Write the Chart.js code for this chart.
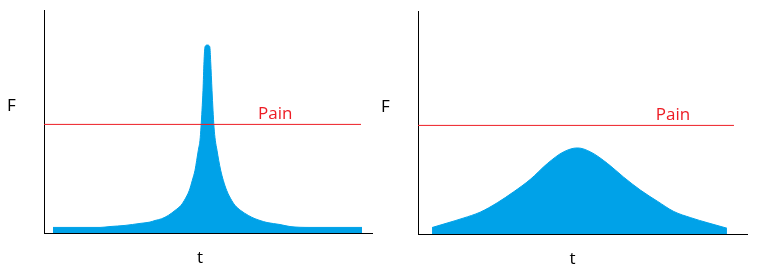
<!DOCTYPE html>
<html>
<head>
<meta charset="utf-8">
<script src="https://cdn.jsdelivr.net/npm/chart.js@4.4.0/dist/chart.umd.min.js"></script>
<style>
  body { margin: 0; background: #fff; }
  .wrap { position: relative; width: 760px; height: 280px; }
  .wrap canvas { position: absolute; top: 0; }
</style>
</head>
<body>
<div class="wrap">
  <canvas id="left-chart" width="380" height="280" style="left:0"></canvas>
  <canvas id="right-chart" width="380" height="280" style="left:380px"></canvas>
</div>
<script>
'use strict';

// left panel: sharp peak
const sharpT = [9, 56, 66, 81, 96, 106, 111, 117.7, 124.3, 131, 137, 140.3, 145.3, 148.3, 151, 152.7, 154.3, 156, 157,
  158, 159, 160, 161, 163.3, 165.8, 166.7, 168, 169, 170, 171.3, 173, 174.7, 176.7, 179.3, 182.7, 187.7, 191, 196.7,
  204.3, 211, 216, 223, 236, 246, 266, 318];
const sharpF = [2.5, 2.5, 2.9, 3.4, 4.3, 4.9, 5.6, 6.4, 7.9, 10.1, 12.4, 14.6, 19.1, 23.6, 28.1, 32.6, 37.1, 41.6, 47.5,
  55.1, 64, 76.8, 83.5, 84.3, 83.5, 76.8, 64, 55.1, 47.5, 41.6, 37.1, 32.6, 28.1, 23.6, 19.1, 14.6, 12.4, 10.1,
  7.9, 6.4, 5.6, 4.7, 3.8, 2.9, 2.5, 2.5];

// right panel: wide bump
const smoothT = [14, 29, 45, 62, 79, 95, 112, 129, 145, 159, 172, 189, 205, 222, 239, 255, 272, 289, 308];
const smoothF = [2.9, 4.9, 7.1, 9.8, 14.0, 18.8, 24.5, 31.6, 36.8, 38.6, 36.8, 31.6, 25.5, 19.6, 14.6, 10.1, 7.3, 5.0, 2.6];

// pain threshold
const painLeftT = [0, 317];
const painRightT = [0, 315];
const painF = 48.7;

const BLUE = '#00A2E8';
const RED = '#ED1C24';

const toPoints = function(ts, fs){
  return ts.map((t, i) => ({x: t, y: fs[i]}));
};

const panelText = {
  id: 'panelText',
  afterDraw(chart){
    const {ctx, chartArea, scales} = chart;
    const o = chart.options.plugins.panelText;
    ctx.save();
    ctx.font = '17px "Open Sans"';
    ctx.fillStyle = '#000';
    ctx.textAlign = 'left';
    ctx.textBaseline = 'middle';
    ctx.fillText('F', chartArea.left - 37, scales.y.getPixelForValue(57));
    ctx.textAlign = 'center';
    ctx.fillText('t', scales.x.getPixelForValue(o.tAt), chartArea.bottom + 25);
    ctx.fillStyle = RED;
    ctx.textAlign = 'left';
    ctx.textBaseline = 'alphabetic';
    ctx.fillText('Pain', scales.x.getPixelForValue(o.painAt), scales.y.getPixelForValue(painF) - 5);
    ctx.restore();
  }
};

const makePanel = function(canvasId, curve, painT, pad, labelPos){
  const axis = {
    display: true,
    grid: {display: false},
    ticks: {display: false},
    border: {display: true, color: '#000', width: 1}
  };
  return new Chart(document.getElementById(canvasId), {
    type: 'line',
    data: {
      datasets: [
        {
          data: toPoints(painT, [painF, painF]),
          borderColor: RED,
          borderWidth: 1,
          pointRadius: 0,
          fill: false
        },
        {
          data: curve,
          borderColor: BLUE,
          backgroundColor: BLUE,
          borderWidth: 1,
          pointRadius: 0,
          cubicInterpolationMode: 'monotone',
          fill: 'origin'
        }
      ]
    },
    options: {
      responsive: false,
      animation: false,
      devicePixelRatio: 1,
      layout: {padding: pad},
      scales: {
        x: Object.assign({type: 'linear', min: 0, max: 328, afterFit: s => { s.height = 0; }}, axis),
        y: Object.assign({min: 0, max: 100, afterFit: s => { s.width = 0; }}, axis)
      },
      plugins: {
        legend: {display: false},
        tooltip: {enabled: false},
        panelText: labelPos
      }
    },
    plugins: [panelText]
  });
};

makePanel('left-chart', toPoints(sharpT, sharpF), painLeftT,
  {left: 44, right: 8, top: 10, bottom: 47}, {tAt: 156, painAt: 214});
makePanel('right-chart', toPoints(smoothT, smoothF), painRightT,
  {left: 38, right: 13, top: 11, bottom: 46}, {tAt: 154, painAt: 237});
</script>
</body>
</html>
